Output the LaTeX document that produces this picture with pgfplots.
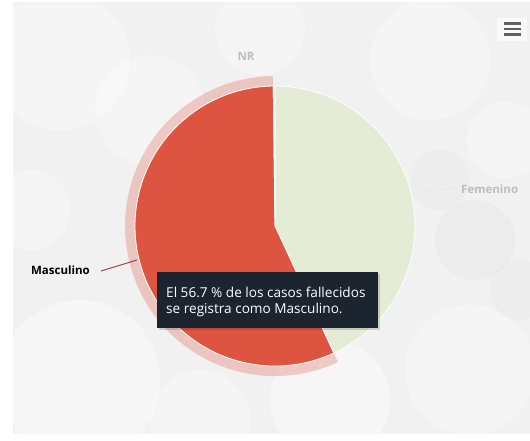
\documentclass[border=0pt]{standalone}
\usepackage{pgfplots}
\pgfplotsset{compat=1.18}
\usepackage{pgfplotstable}
\usepackage{fontspec}
\setmainfont{Open Sans}
\definecolor{bg}{HTML}{F1F1F1}
\definecolor{masc}{HTML}{DD5541}
\definecolor{fem}{HTML}{E4ECD5}
\definecolor{nr}{HTML}{F6F6F6}
\definecolor{tip}{HTML}{1C2430}
\definecolor{lbl}{HTML}{BDBDBD}
\definecolor{conn}{HTML}{9A3A3A}

\pgfplotstableread{
label value
Femenino 43.1
Masculino 56.7
NR 0.2
}\piedata

\pgfplotstablegetelem{0}{value}\of\piedata \let\vF\pgfplotsretval
\pgfplotstablegetelem{1}{value}\of\piedata \let\vM\pgfplotsretval
\pgfplotstablegetelem{2}{value}\of\piedata \let\vN\pgfplotsretval
\pgfmathsetmacro{\aA}{90}
\pgfmathsetmacro{\aB}{90-3.6*\vF}
\pgfmathsetmacro{\aC}{\aB-3.6*\vM}
\pgfmathsetmacro{\aD}{\aC-3.6*\vN}

\begin{document}
\begin{tikzpicture}
\begin{axis}[
  x=1pt, y=1pt,
  xmin=0, xmax=530, ymin=0, ymax=440,
  hide axis, scale only axis, clip=false,
]
% background
\fill[white] (axis cs:0,0) rectangle (axis cs:530,440);
\begin{scope}
\clip (axis cs:13,7) rectangle (axis cs:530,437);
\fill[bg] (axis cs:0,0) rectangle (axis cs:530,440);
\fill[white, opacity=0.35] (axis cs:60,380) circle[radius=70pt];
\fill[white, opacity=0.3] (axis cs:150,330) circle[radius=55pt];
\fill[white, opacity=0.4] (axis cs:80,60) circle[radius=80pt];
\fill[white, opacity=0.4] (axis cs:330,40) circle[radius=60pt];
\fill[white, opacity=0.35] (axis cs:470,70) circle[radius=65pt];
\fill[white, opacity=0.35] (axis cs:430,380) circle[radius=60pt];
\fill[white, opacity=0.3] (axis cs:505,300) circle[radius=38pt];
\fill[white, opacity=0.3] (axis cs:260,410) circle[radius=45pt];
\fill[white, opacity=0.35] (axis cs:200,20) circle[radius=50pt];
\fill[white, opacity=0.3] (axis cs:30,230) circle[radius=40pt];
\fill[gray, opacity=0.04] (axis cs:475,200) circle[radius=40pt];
\fill[gray, opacity=0.035] (axis cs:440,260) circle[radius=30pt];
\fill[gray, opacity=0.035] (axis cs:520,150) circle[radius=30pt];
\end{scope}
% menu icon
\fill[white, opacity=0.7] (axis cs:497,399) rectangle (axis cs:527,422);
\fill[black!62] (axis cs:504,415) rectangle (axis cs:521,417.5);
\fill[black!62] (axis cs:504,409.5) rectangle (axis cs:521,412);
\fill[black!62] (axis cs:504,404) rectangle (axis cs:521,406.5);
% halo of the hovered slice (Masculino)
\fill[masc, opacity=0.28] (axis cs:275,214) ++(\aB:150pt) arc[start angle=\aB, end angle=\aC, radius=150pt] -- ++(\aC:-10pt) arc[start angle=\aC, end angle=\aB, radius=140pt] -- cycle;
% slices
\filldraw[fill=fem, draw=white, line width=0.8pt] (axis cs:275,214) -- ++(\aA:140pt) arc[start angle=\aA, end angle=\aB, radius=140pt] -- cycle;
\filldraw[fill=masc, draw=white, line width=0.8pt] (axis cs:275,214) -- ++(\aB:140pt) arc[start angle=\aB, end angle=\aC, radius=140pt] -- cycle;
\filldraw[fill=nr, draw=white, line width=0.8pt] (axis cs:275,214) -- ++(\aC:140pt) arc[start angle=\aC, end angle=\aD, radius=140pt] -- cycle;
% connectors and labels
\draw[conn, line width=0.9pt] (axis cs:101,169) -- (axis cs:137,180);
\draw[black!9, line width=0.8pt] (axis cs:412,247) -- (axis cs:455,252);
\node[anchor=east, font=\fontsize{11.5}{13}\selectfont\bfseries, text=black, inner sep=0pt] at (axis cs:90,170) {Masculino};
\node[anchor=west, font=\fontsize{11.5}{13}\selectfont\bfseries, text=lbl, inner sep=0pt] at (axis cs:461,251) {Femenino};
\node[anchor=center, font=\fontsize{11.5}{13}\selectfont\bfseries, text=lbl, inner sep=0pt] at (axis cs:246,384) {NR};
% tooltip
\fill[black, opacity=0.15] (axis cs:159,110) rectangle (axis cs:380,166);
\fill[tip] (axis cs:157,112) rectangle (axis cs:378,168);
\node[anchor=west, font=\fontsize{13.6}{15}\selectfont, text=white, inner sep=0pt] at (axis cs:166,148) {El 56.7 \% de los casos fallecidos};
\node[anchor=west, font=\fontsize{13.6}{15}\selectfont, text=white, inner sep=0pt] at (axis cs:166,130) {se registra como Masculino.};
\end{axis}
\end{tikzpicture}
\end{document}
